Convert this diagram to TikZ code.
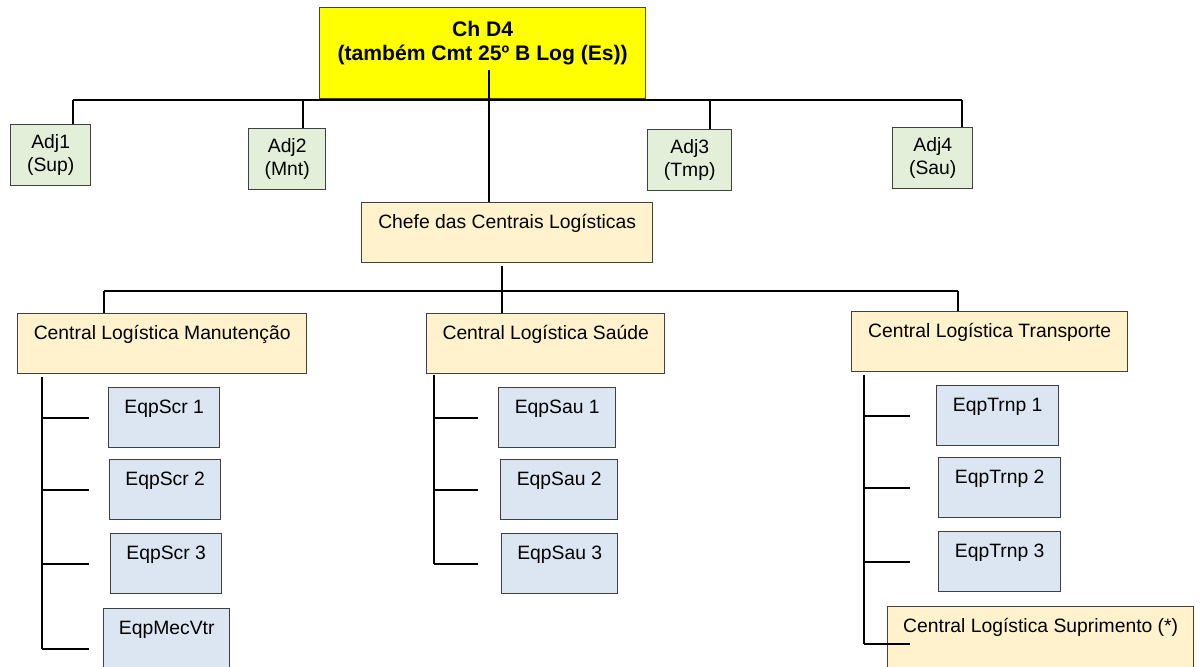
\documentclass[tikz,border=0pt]{standalone}
\usepackage{fontspec}
\setmainfont{Liberation Sans}
\definecolor{chefyellow}{HTML}{FFFF00}
\definecolor{adjgreen}{HTML}{E4EFDA}
\definecolor{clpeach}{HTML}{FFF2CC}
\definecolor{eqpblue}{HTML}{DCE6F2}
\definecolor{boxline}{HTML}{404040}
\begin{document}
\begin{tikzpicture}[x=0.02cm, y=-0.02cm,
  every node/.style={font=\fontsize{11pt}{13pt}\selectfont},
  box/.style={draw=boxline, line width=0.8pt, anchor=north west, inner sep=0pt, align=center, text height=0.52cm, text depth=0.68cm},
  chbox/.style={box, fill=chefyellow, font=\fontsize{12pt}{14pt}\selectfont\bfseries, text height=1.06cm, text depth=0.76cm},
  adjbox/.style={box, fill=adjgreen, text height=0.94cm, text depth=0.28cm},
  clbox/.style={box, fill=clpeach},
  eqpbox/.style={box, fill=eqpblue},
  conn/.style={line width=1.1pt}]
  \useasboundingbox (0,0) rectangle (1202,666);
  \clip (0,0) rectangle (1202,666);
  % topo
  \node[chbox, minimum width=6.52cm] (top) at (319,7) {Ch D4\\(também Cmt 25º B Log (Es))};
  \node[adjbox, minimum width=1.6cm] (adj1) at (10,124) {Adj1\\(Sup)};
  \node[adjbox, minimum width=1.54cm] (adj2) at (248,128) {Adj2\\(Mnt)};
  \node[adjbox, minimum width=1.68cm] (adj3) at (647,129) {Adj3\\(Tmp)};
  \node[adjbox, minimum width=1.6cm] (adj4) at (892,127) {Adj4\\(Sau)};
  \node[clbox, minimum width=5.82cm] (chefe) at (361,202) {Chefe das Centrais Logísticas};
  % centrais
  \node[clbox, minimum width=5.78cm] (cman) at (17,313) {Central Logística Manutenção};
  \node[clbox, minimum width=4.76cm] (csau) at (426,313) {Central Logística Saúde};
  \node[clbox, minimum width=5.52cm] (ctrn) at (851,311) {Central Logística Transporte};
  % equipes
  \node[eqpbox, minimum width=2.22cm] (scr1) at (108,387) {EqpScr 1};
  \node[eqpbox, minimum width=2.22cm] (scr2) at (109,459) {EqpScr 2};
  \node[eqpbox, minimum width=2.22cm] (scr3) at (110,533) {EqpScr 3};
  \node[eqpbox, minimum width=2.52cm, text depth=1.08cm] (mec) at (103,608) {EqpMecVtr};
  \node[eqpbox, minimum width=2.34cm] (sau1) at (498,387) {EqpSau 1};
  \node[eqpbox, minimum width=2.34cm] (sau2) at (500,459) {EqpSau 2};
  \node[eqpbox, minimum width=2.32cm] (sau3) at (501,533) {EqpSau 3};
  \node[eqpbox, minimum width=2.44cm] (trnp1) at (936,385) {EqpTrnp 1};
  \node[eqpbox, minimum width=2.44cm] (trnp2) at (938,457) {EqpTrnp 2};
  \node[eqpbox, minimum width=2.44cm] (trnp3) at (938,531) {EqpTrnp 3};
  \node[clbox, minimum width=6.12cm, text depth=0.96cm] (supr) at (887,606) {Central Logística Suprimento (*)};
  % ligacoes
  \coordinate (b1) at (73,100);
  \coordinate (b2) at (303,100);
  \coordinate (b3) at (710,100);
  \coordinate (b4) at (962,100);
  \coordinate (t0) at (489,70);
  \coordinate (m1) at (104,291);
  \coordinate (m2) at (502,266);
  \coordinate (m3) at (958,291);
  \coordinate (vm) at (42,377);
  \coordinate (tm) at (89,377);
  \coordinate (vs) at (434,375);
  \coordinate (ts) at (478,375);
  \coordinate (vt) at (864,375);
  \coordinate (tt) at (910,375);
  \draw[conn] (b1) -- (b4);
  \foreach \b/\a in {b1/adj1, b2/adj2, b3/adj3, b4/adj4}
    \draw[conn] (\b) -- (\b |- \a.north);
  \draw[conn] (t0) -- (t0 |- chefe.north);
  \draw[conn] (m1) -- (m3);
  \draw[conn] (m1) -- (m1 |- cman.north);
  \draw[conn] (m2) -- (m2 |- csau.north);
  \draw[conn] (m3) -- (m3 |- ctrn.north);
  \draw[conn] (vm) -- (vm |- mec.center);
  \foreach \n in {scr1, scr2, scr3, mec}
    \draw[conn] (vm |- \n.center) -- (tm |- \n.center);
  \draw[conn] (vs) -- (vs |- sau3.center);
  \foreach \n in {sau1, sau2, sau3}
    \draw[conn] (vs |- \n.center) -- (ts |- \n.center);
  \draw[conn] (vt) -- (vt |- supr.center);
  \foreach \n in {trnp1, trnp2, trnp3, supr}
    \draw[conn] (vt |- \n.center) -- (tt |- \n.center);
\end{tikzpicture}
\end{document}
